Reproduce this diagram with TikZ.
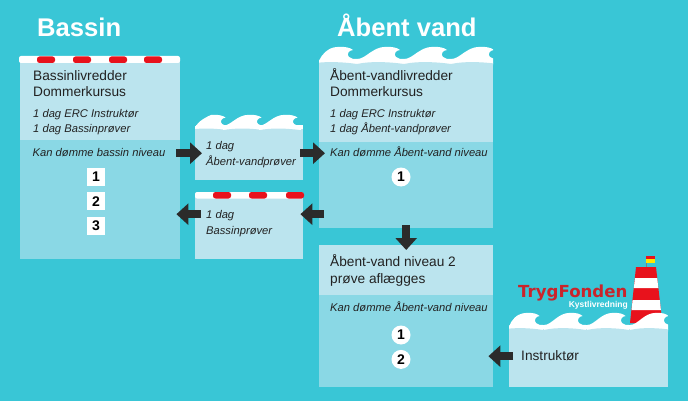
\documentclass[tikz,border=0pt]{standalone}
\usepackage{fontspec}
\setmainfont{Liberation Sans}
\newfontfamily\logofont{DejaVu Sans}
\usepackage{xcolor}
\usetikzlibrary{arrows.meta,positioning,calc}
\definecolor{waterbg}{HTML}{39C6D6}
\definecolor{softwater}{HTML}{BBE4EE}
\definecolor{midwater}{HTML}{8AD8E5}
\definecolor{arrowdark}{HTML}{2B2B2B}
\definecolor{flagred}{HTML}{E8121C}
\definecolor{logored}{HTML}{C9242B}
\definecolor{inktext}{HTML}{222222}
\tikzset{
  uppanel/.style={rectangle, fill=softwater, inner sep=0pt, anchor=north west},
  lowpanel/.style={rectangle, fill=midwater, inner sep=0pt},
  title/.style={anchor=base west, inner sep=0pt, text=white, font=\fontsize{25.6}{30}\selectfont\bfseries},
  headtext/.style={anchor=base west, inner sep=0pt, align=left, text=inktext, font=\fontsize{13.7}{16.4}\selectfont},
  smalltext/.style={anchor=base west, inner sep=0pt, align=left, text=inktext, font=\fontsize{11.2}{16}\selectfont\itshape},
  squarebadge/.style={rectangle, fill=white, minimum size=18pt, inner sep=0pt, font=\fontsize{14}{14}\selectfont\bfseries},
  roundbadge/.style={circle, fill=white, minimum size=19pt, inner sep=0pt, font=\fontsize{14}{14}\selectfont\bfseries},
  blockarrow/.style={-{Triangle[length=12pt,width=21pt]}, line width=8.5pt, draw=arrowdark},
  poolstrip/.style={fill=white, rounded corners=2pt},
  lanedash/.style={fill=flagred, rounded corners=2.5pt},
  crest/.pic={
    \fill[white] (-9,17.5) -- (-9,12.5) .. controls (0,12.5) and (6,0.5) .. (20,0.3) .. controls (26,0.2) and (31,1) .. (34,3.5) .. controls (30,3.5) and (27,8) .. (30,10.5) .. controls (32,12.5) and (35,12.5) .. (38,12.5) -- (38,17.5) -- cycle;
    \fill[softwater] (-9,19) -- (-9,17.5) .. controls (5,14.5) and (24,15.5) .. (38,17.5) -- (38,19) -- cycle;
  }
}
\begin{document}
\begin{tikzpicture}[x=1pt, y=-1pt]
  \useasboundingbox (0,0) rectangle (688,401);
  \fill[waterbg] (0,0) rectangle (688,401);

  \node[title] (bassintitle) at (37,36.7) {Bassin};
  \node[title] (abenttitle) at (337,36.7) {Åbent vand};

  % panels
  \node[uppanel, minimum width=160pt, minimum height=80pt] (bassintop) at (20,60) {};
  \node[lowpanel, minimum width=160pt, minimum height=119pt, below=-0.5pt of bassintop] (bassinlow) {};
  \node[uppanel, minimum width=108pt, minimum height=54pt] (vandsmall) at (195,126) {};
  \node[uppanel, minimum width=108pt, minimum height=63pt] (poolsmall) at (195,196) {};
  \node[uppanel, minimum width=174pt, minimum height=82pt] (abenttop) at (319,60) {};
  \node[lowpanel, minimum width=174pt, minimum height=86pt, below=-0.5pt of abenttop] (abentlow) {};
  \node[uppanel, minimum width=174pt, minimum height=50pt] (niveautop) at (319,245) {};
  \node[lowpanel, minimum width=174pt, minimum height=92pt, below=-0.5pt of niveautop] (niveaulow) {};

  % lighthouse
  \draw[gray, line width=0.7pt] (646.5,262) -- (646.5,267);
  \fill[flagred] (646,256) rectangle (655,259);
  \fill[yellow!90!orange] (646,259) rectangle (655,262.5);
  \fill[flagred] (636,267) -- (656,267) -- (661,311) -- (661,323) -- (630,323) -- cycle;
  \fill[white] (635,278) -- (657.2,278) -- (658.3,288) -- (633.8,288) -- cycle;
  \fill[white] (632.6,300) -- (659.8,300) -- (660.9,310) -- (631.5,310) -- cycle;

  \node[uppanel, minimum width=159pt, minimum height=62pt] (instrpanel) at (509,325) {};

  % waves
  \begin{scope}
    \clip (195,127) .. controls (199,121) and (205,117) .. (216,113) -- (303,105) -- (303,135) -- (195,135) -- cycle;
    \fill[white] (195,125.5) rectangle (303,129);
    \foreach \k in {0,1,2}
      \pic[xscale=0.9, yscale=0.9] at (195+36*\k,114.5) {crest};
  \end{scope}
  \begin{scope}
    \clip (319,61) .. controls (322,54) and (326,50) .. (336,46) -- (493,40) -- (493,70) -- (319,70) -- cycle;
    \fill[white] (319,59) rectangle (493,62.5);
    \foreach \k in {0,...,3}
      \pic at (319+47*\k,46.5) {crest};
  \end{scope}
  \begin{scope}
    \clip (509,327) .. controls (511,320) and (516,315) .. (526,311) -- (668,305) -- (668,335) -- (509,335) -- cycle;
    \fill[white] (509,325) rectangle (668,328.5);
    \foreach \k in {0,...,3}
      \pic[xscale=0.9] at (509+43*\k,312.5) {crest};
  \end{scope}

  % pool strips
  \fill[poolstrip] (19,56) rectangle (180,63);
  \foreach \x in {37,73,109,144}
    \fill[lanedash] (\x,56.5) rectangle +(18,6.5);
  \fill[poolstrip] (195,192) rectangle (303,198.5);
  \foreach \x in {213,249,286}
    \fill[lanedash] (\x,192) rectangle +(18,6.5);

  % texts
  \node[headtext] (bassinhead) at (33,97) {Bassinlivredder\\Dommerkursus};
  \node[smalltext] (bassinsub) at (33,133) {1 dag ERC Instruktør\\1 dag Bassinprøver};
  \node[smalltext] (bassinkan) at (32.5,157) {Kan dømme bassin niveau};
  \node[smalltext] (vandtext) at (206,165) {1 dag\\Åbent-vandprøver};
  \node[smalltext] (pooltext) at (206,234) {1 dag\\Bassinprøver};
  \node[headtext] (abenthead) at (330,97) {Åbent-vandlivredder\\Dommerkursus};
  \node[smalltext] (abentsub) at (330,133) {1 dag ERC Instruktør\\1 dag Åbent-vandprøver};
  \node[smalltext] (abentkan) at (330,157) {Kan dømme Åbent-vand niveau};
  \node[headtext] (niveauhead) at (330,283) {Åbent-vand niveau 2\\prøve aflægges};
  \node[smalltext] (niveaukan) at (330,311) {Kan dømme Åbent-vand niveau};
  \node[headtext] (instrtext) at (521,360) {Instruktør};

  % logo
  \node[anchor=base west, inner sep=0pt, text=logored, font=\logofont\fontsize{16.6}{18}\selectfont\bfseries] (logoname) at (518,297) {TrygFonden};
  \node[anchor=base east, inner sep=0pt, text=white, font=\fontsize{8.5}{10}\selectfont\bfseries] (logosub) at (628,307) {Kystlivredning};

  % badges
  \node[squarebadge] (b1) at (96,177) {1};
  \node[squarebadge, below=6pt of b1] (b2) {2};
  \node[squarebadge, below=6pt of b2] (b3) {3};
  \node[roundbadge] (a1) at (401,177) {1};
  \node[roundbadge] (n1) at (401,335) {1};
  \node[roundbadge, below=5pt of n1] (n2) {2};

  % arrows
  \draw[blockarrow] ([xshift=-4pt]bassinlow.east |- vandsmall.west) -- ([xshift=7pt]vandsmall.west);
  \draw[blockarrow] ([xshift=-3pt]vandsmall.east) -- ([xshift=6pt]abentlow.west |- vandsmall.east);
  \draw[blockarrow] ([xshift=5pt,yshift=13.5pt]abentlow.west |- poolsmall.east) -- ([xshift=-3pt,yshift=13.5pt]poolsmall.east);
  \draw[blockarrow] ([xshift=6pt,yshift=13.5pt]poolsmall.west) -- ([xshift=-4pt,yshift=13.5pt]bassinlow.east |- poolsmall.west);
  \draw[blockarrow] ([yshift=3pt]abentlow.south) -- ([yshift=-5pt]niveautop.north);
  \draw[blockarrow] ([xshift=4pt]instrpanel.west) -- ([xshift=-5pt]niveaulow.east |- instrpanel.west);
\end{tikzpicture}
\end{document}
